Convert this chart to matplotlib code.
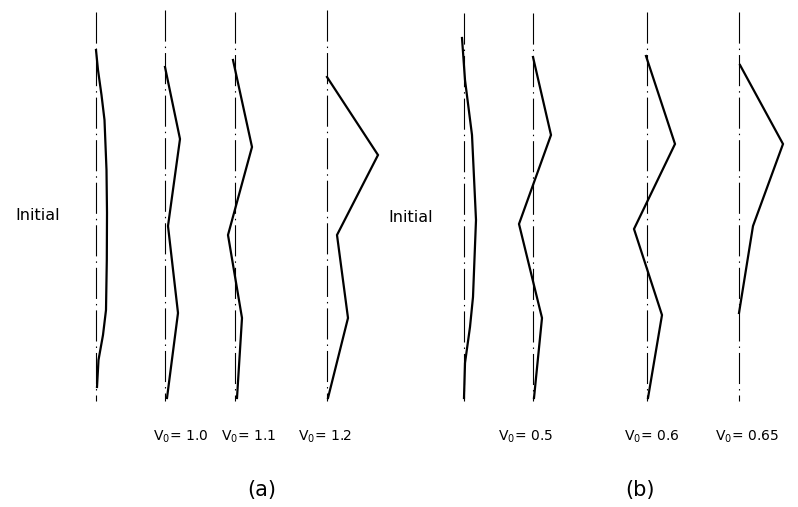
import matplotlib.pyplot as plt

###############################################################################
# Data (read off the picture): stations measured down from the top of the
# drawing, deflection measured from each column's centre line
###############################################################################

labels_a = ['Initial', 'V$_0$= 1.0', 'V$_0$= 1.1', 'V$_0$= 1.2']
labels_b = ['Initial', 'V$_0$= 0.5', 'V$_0$= 0.6', 'V$_0$= 0.65']

# panel (a)
init_a_y = [50, 70, 95, 120, 170, 213, 260, 310, 335, 360, 387]
init_a_dx = [0, 2, 5.5, 8.5, 10.5, 11, 10.8, 10, 7, 2.5, 1]
v10_y = [67, 139, 226, 313, 398]
v10_dx = [0, 15, 3, 13, 2]
v11_y = [60, 147, 235, 318, 398]
v11_dx = [-2, 17, -7, 7, 2]
v12_y = [77, 155, 235, 318, 398]
v12_dx = [0, 51, 10, 21, 1]

# panel (b)
init_b_y = [38, 80, 135, 220, 297, 327, 363, 398]
init_b_dx = [-2, 1, 8, 12, 9, 6, 1, 0]
v05_y = [57, 135, 224, 318, 398]
v05_dx = [0, 18, -14, 9, 1]
v06_y = [56, 144, 229, 315, 398]
v06_dx = [-1, 28, -13, 15, 1]
v065_y = [65, 144, 226, 313]
v065_dx = [1, 44, 14, 0]

###############################################################################
# Layout
###############################################################################

centres = [96, 165, 235, 327, 464, 533, 647, 739]
line_top = [12, 10, 12, 10, 13, 13, 12, 12]
line_bot = 401

shapes = [(init_a_y, init_a_dx), (v10_y, v10_dx), (v11_y, v11_dx),
          (v12_y, v12_dx), (init_b_y, init_b_dx), (v05_y, v05_dx),
          (v06_y, v06_dx), (v065_y, v065_dx)]

label_x = [None, 181, 249, 325, None, 526, 652, 747]
labels = labels_a + labels_b

fig = plt.figure(figsize=(7.98, 5.07), dpi=100)
ax = fig.add_axes([0, 0, 1, 1])
ax.set_xlim(0, 798)
ax.set_ylim(507, 0)
ax.axis('off')

for i, (ys, dxs) in enumerate(shapes):
    c = centres[i]
    # centre line
    ax.plot([c, c], [line_top[i], line_bot], color='black', lw=0.8,
            linestyle=(0, (28, 4.5, 1.3, 4.5)))
    # deflected shape
    ax.plot([c + d for d in dxs], ys, color='black', lw=1.6,
            solid_joinstyle='miter')
    if label_x[i] is not None:
        ax.text(label_x[i], 437, labels[i], ha='center', va='center',
                fontsize=10)

ax.text(15, 216, labels_a[0], ha='left', va='center', fontsize=11.5)
ax.text(388, 218, labels_b[0], ha='left', va='center', fontsize=11.5)

ax.text(262, 490, '(a)', ha='center', va='center', fontsize=15)
ax.text(640, 490, '(b)', ha='center', va='center', fontsize=15)

fig.savefig('out.png', dpi=100)
